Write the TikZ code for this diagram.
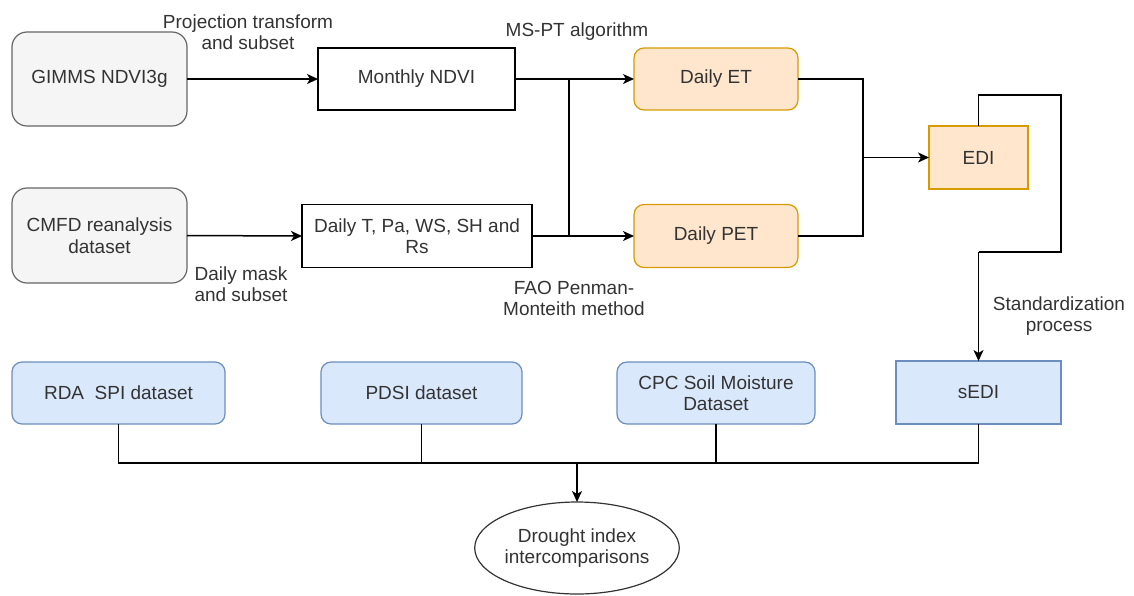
\documentclass[tikz,border=0pt]{standalone}
\usepackage{fontspec}
\setmainfont{Liberation Sans}
\usetikzlibrary{arrows.meta,shapes.geometric}
\definecolor{txt}{HTML}{333333}
\definecolor{grayfill}{HTML}{F5F5F5}
\definecolor{graydraw}{HTML}{666666}
\definecolor{orfill}{HTML}{FFE6CC}
\definecolor{ordraw}{HTML}{D79B00}
\definecolor{blfill}{HTML}{DAE8FC}
\definecolor{bldraw}{HTML}{6C8EBF}
\tikzset{
  base/.style={inner sep=0pt, outer sep=0pt, align=center, text=txt, font=\fontsize{19}{21.5}\selectfont, line width=1.2pt},
  graybox/.style={base, draw=graydraw, fill=grayfill, rounded corners=15pt},
  plainbox/.style={base, draw=black, fill=white},
  orround/.style={base, draw=ordraw, fill=orfill, rounded corners=10pt},
  orrect/.style={base, draw=ordraw, fill=orfill},
  blround/.style={base, draw=bldraw, fill=blfill, rounded corners=10pt},
  blrect/.style={base, draw=bldraw, fill=blfill},
  ellbox/.style={base, draw=black!80, fill=white, ellipse},
  lbl/.style={inner sep=0pt, align=center, text=txt, font=\fontsize{19}{21.5}\selectfont},
  conn/.style={draw=black, line width=1.5pt},
  arr/.style={conn, -{Stealth[length=11pt,width=10pt,inset=3pt]}},
}
\begin{document}
\begin{tikzpicture}[x=1pt,y=-1pt]
\useasboundingbox (0,0) rectangle (1134,595);
% row 1
\node[graybox, minimum width=175pt, minimum height=94pt] (gimms) at (99.5,79) {GIMMS NDVI3g};
\node[plainbox, minimum width=197pt, minimum height=62pt] (monthly) at (416.5,79) {Monthly NDVI};
\node[orround, minimum width=164pt, minimum height=62pt] (det) at (716,79) {Daily ET};
% row 2
\node[graybox, minimum width=175pt, minimum height=95pt] (cmfd) at (99.5,235.5) {CMFD reanalysis\\dataset};
\node[plainbox, minimum width=230pt, minimum height=63pt] (dailyT) at (417,236) {Daily T, Pa, WS, SH and\\Rs};
\node[orround, minimum width=164pt, minimum height=63pt] (dpet) at (716,236) {Daily PET};
\node[orrect, minimum width=99pt, minimum height=63pt] (edi) at (978.5,157.5) {EDI};
% row 3
\node[blround, minimum width=213pt, minimum height=62pt] (rda) at (118.5,393) {RDA\ \ SPI dataset};
\node[blround, minimum width=201pt, minimum height=62pt] (pdsi) at (421.5,393) {PDSI dataset};
\node[blround, minimum width=198pt, minimum height=62pt] (cpc) at (716,393) {CPC Soil Moisture\\Dataset};
\node[blrect, minimum width=165pt, minimum height=63pt] (sedi) at (978.5,392.5) {sEDI};
\node[ellbox, minimum width=198pt, minimum height=92pt] (drought) at (577,548) {Drought index\\intercomparisons};
% labels
\node[lbl] (l1) at (248,32) {Projection transform\\and subset};
\node[lbl] (l2) at (577,32) {MS-PT algorithm};
\node[lbl] (l3) at (241,284) {Daily mask\\and subset};
\node[lbl] (l4) at (574,298.5) {FAO Penman-\\Monteith method};
\node[lbl] (l5) at (1059,316) {Standardization\\process};
% junctions
\coordinate (j1) at (569,79);
\coordinate (j2) at (569,236);
\coordinate (k1) at (863,79);
\coordinate (k2) at (863,236);
\coordinate (k3) at (863,157.5);
\coordinate (e1) at (978.5,95);
\coordinate (e2) at (1061,95);
\coordinate (e3) at (1061,252);
\coordinate (e4) at (978.5,252);
\coordinate (b1) at (118.5,463);
\coordinate (b2) at (978.5,463);
\coordinate (b3) at (577,463);
% connectors
\draw[arr] (gimms.east) -- (monthly.west);
\draw[arr] (cmfd.east) -- (dailyT.west);
\draw[arr] (monthly.east) -- (det.west);
\draw[arr] (dailyT.east) -- (dpet.west);
\draw[conn] (j1) -- (j2);
\draw[conn] (det.east) -- (k1) -- (k2) -- (dpet.east);
\draw[arr] (k3) -- (edi.west);
\draw[conn] (edi.north) -- (e1) -- (e2) -- (e3) -- (e4);
\draw[arr] (e4) -- (sedi.north);
\draw[conn] (rda.south) -- (b1) -- (b2) -- (sedi.south);
\draw[conn] (pdsi.south) -- (pdsi.south |- b1);
\draw[conn] (cpc.south) -- (cpc.south |- b1);
\draw[arr] (b3) -- (drought.north);
\end{tikzpicture}
\end{document}
